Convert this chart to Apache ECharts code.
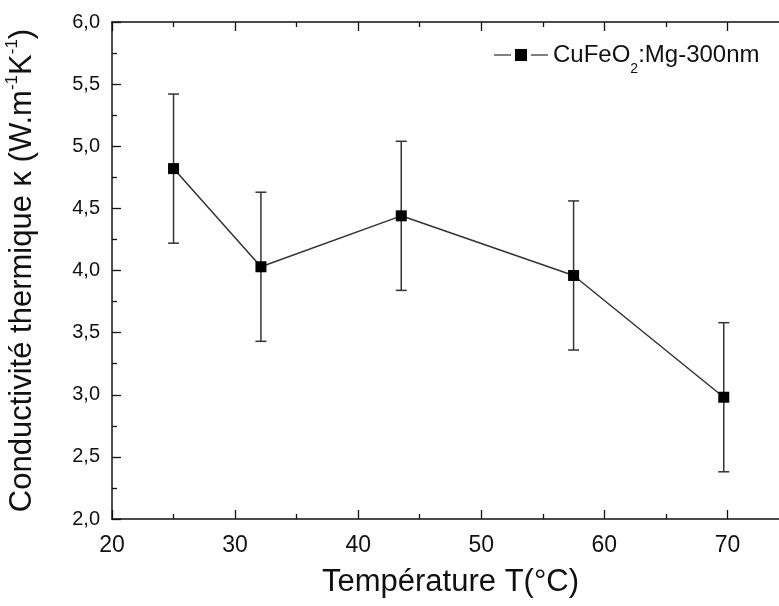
<!DOCTYPE html>
<html>
<head>
<meta charset="utf-8">
<script src="https://cdn.jsdelivr.net/npm/echarts@6/dist/echarts.min.js"></script>
<style>
	html, body { margin: 0; padding: 0; background: #fff; }
	#chart { width: 779px; height: 606px; }
</style>
</head>
<body>
<div id="chart"></div>
<script>
// data
var temps = [25.0, 32.1, 43.5, 57.5, 69.7];
var kappa = [4.82, 4.03, 4.44, 3.96, 2.98];
var kappaErr = [0.6, 0.6, 0.6, 0.6, 0.6];
var xTicks = [20, 30, 40, 50, 60, 70];
var yTicks = ['2,0', '2,5', '3,0', '3,5', '4,0', '4,5', '5,0', '5,5', '6,0'];
var seriesName = 'CuFeO2:Mg-300nm';

var font = '"Liberation Sans", Arial, sans-serif';

var points = temps.map(function (t, i) { return [t, kappa[i]]; });
var bars = temps.map(function (t, i) { return [t, kappa[i] - kappaErr[i], kappa[i] + kappaErr[i]]; });

var tickStyle = {
	axisLine: { show: true, onZero: false, lineStyle: { color: '#111', width: 1.5 } },
	axisTick: { show: true, inside: true, length: 9, lineStyle: { color: '#111', width: 1.3 } },
	minorTick: { show: true, splitNumber: 2, length: 5, lineStyle: { color: '#111', width: 1.3 } },
	splitLine: { show: false }
};

var myChart = echarts.init(document.getElementById('chart'));
var option = {
	animation: false,
	backgroundColor: '#fff',
	grid: { left: 112, top: 22, width: 677, height: 497, outerBoundsMode: 'none' },
	legend: {
		left: 489,
		top: 38,
		itemWidth: 54,
		itemHeight: 12,
		itemGap: 0,
		// line - square - line, with small gaps like the original
		icon: 'path://M0,5.4H17V6.6H0Z M21,0H33V12H21Z M37,5.4H54V6.6H37Z',
		data: [seriesName],
		formatter: function () { return '{a|CuFeO}{s|2}{a|:Mg-300nm}'; },
		textStyle: {
			rich: {
				a: { fontFamily: font, fontSize: 24, color: '#111', lineHeight: 30 },
				s: { fontFamily: font, fontSize: 14, color: '#111', verticalAlign: 'bottom', lineHeight: 30, padding: [0, 0, -6, 0] }
			}
		}
	},
	xAxis: [
		Object.assign({
			type: 'value', min: 20, max: 75, interval: 10,
			name: 'Température T(°C)',
			nameLocation: 'middle',
			nameGap: 48,
			nameTextStyle: { fontFamily: font, fontSize: 31, color: '#111' },
			axisLabel: {
				fontFamily: font, fontSize: 23, color: '#111', margin: 15,
				formatter: function (v) { return xTicks.indexOf(v) >= 0 ? String(v) : ''; }
			}
		}, tickStyle),
		Object.assign({
			type: 'value', min: 20, max: 75, interval: 10, position: 'top',
			axisLabel: { show: false }
		}, tickStyle)
	],
	yAxis: [
		Object.assign({
			type: 'value', min: 2, max: 6, interval: 0.5,
			name: '{a|Conductivité thermique κ (W.m}{s|-1}{a|K}{s|-1}{a|)}',
			nameLocation: 'middle',
			nameGap: 72,
			nameTextStyle: {
				rich: {
					a: { fontFamily: font, fontSize: 31, color: '#111', lineHeight: 36 },
					s: { fontFamily: font, fontSize: 17, color: '#111', verticalAlign: 'top', lineHeight: 36, padding: [0, 0, 8, 0] }
				}
			},
			axisLabel: {
				fontFamily: font, fontSize: 20, color: '#111', margin: 12,
				formatter: function (v) { return yTicks[Math.round((v - 2) / 0.5)]; }
			}
		}, tickStyle),
		Object.assign({
			type: 'value', min: 2, max: 6, interval: 0.5, position: 'right',
			axisLabel: { show: false }
		}, tickStyle)
	],
	series: [
		{
			type: 'custom',
			name: 'err',
			silent: true,
			z: 1,
			data: bars,
			renderItem: function (params, api) {
				var x = api.value(0);
				var lo = api.coord([x, api.value(1)]);
				var hi = api.coord([x, api.value(2)]);
				var w = 5.5;
				var st = { stroke: '#333', lineWidth: 1.5 };
				return {
					type: 'group',
					children: [
						{ type: 'line', shape: { x1: lo[0], y1: lo[1], x2: hi[0], y2: hi[1] }, style: st },
						{ type: 'line', shape: { x1: lo[0] - w, y1: lo[1], x2: lo[0] + w, y2: lo[1] }, style: st },
						{ type: 'line', shape: { x1: hi[0] - w, y1: hi[1], x2: hi[0] + w, y2: hi[1] }, style: st }
					]
				};
			}
		},
		{
			type: 'line',
			name: seriesName,
			z: 3,
			data: points,
			symbol: 'rect',
			symbolSize: 11,
			itemStyle: { color: '#000' },
			lineStyle: { color: '#333', width: 1.5 }
		}
	]
};
myChart.setOption(option);
</script>
</body>
</html>
